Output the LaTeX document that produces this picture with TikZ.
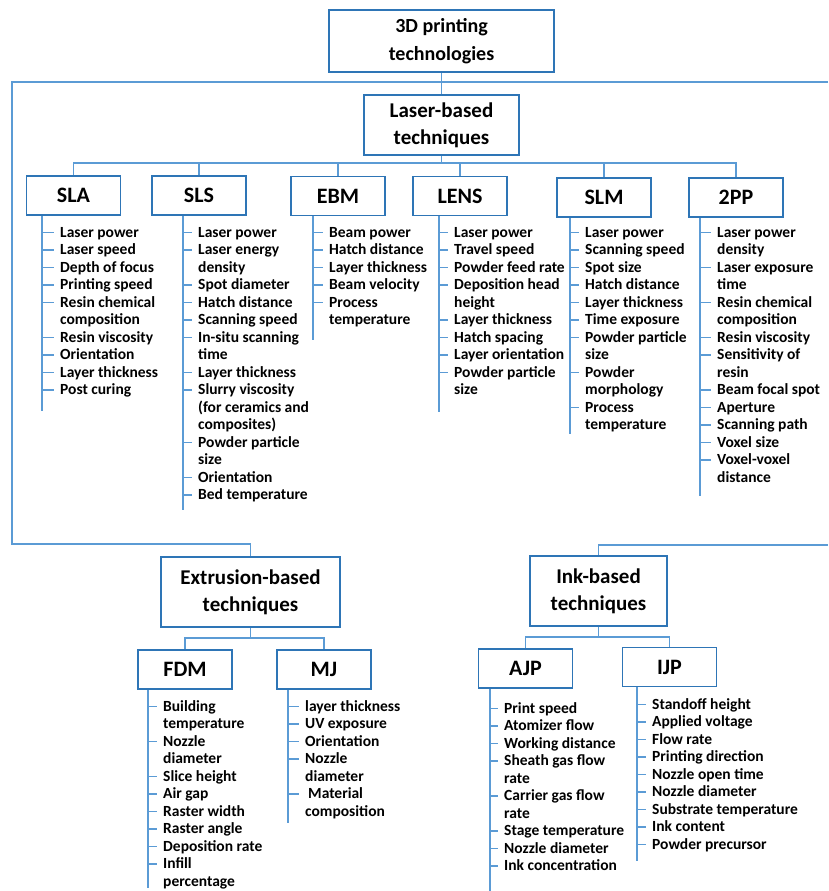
\documentclass[tikz,border=0pt]{standalone}
\usepackage{fontspec}
\setmainfont{Carlito}
\usepackage{xcolor}
\usetikzlibrary{positioning, calc}

\definecolor{boxblue}{HTML}{2E75B6}
\definecolor{lineblue}{HTML}{5B9BD5}

% parameter text, baseline on its first line
\newcommand{\partext}[1]{\begin{tabular}[t]{@{}l@{}}#1\end{tabular}}

\tikzset{
  box/.style={draw=boxblue, line width=1.8pt, fill=white, align=center, inner sep=0pt,
    font=\bfseries\fontsize{21}{27}\selectfont, text=black},
  techbox/.style={box, minimum width=94pt, minimum height=39pt, font=\bfseries\fontsize{22}{24}\selectfont},
  link/.style={draw=lineblue, line width=1.3pt},
  item/.style={anchor=base west, inner sep=0pt, text=black,
    font=\bfseries\fontsize{15.5}{17.5}\selectfont}
}

\begin{document}
\begin{tikzpicture}[x=1pt, y=1pt]
\useasboundingbox (0,0) rectangle (828,-891);

% Main boxes
\node[box, minimum width=225pt, minimum height=62pt, font=\bfseries\fontsize{20}{28}\selectfont] (tech) at (441.5,-41) {3D printing\\technologies};
\node[box, minimum width=155pt, minimum height=60pt] (laser) at (441.5,-125) {Laser-based\\techniques};
\node[box, minimum width=179pt, minimum height=70pt] (extr) at (250.5,-592) {Extrusion-based\\techniques};
\node[box, minimum width=137pt, minimum height=70pt] (ink) at (598.5,-591) {Ink-based\\techniques};

% Laser-based technologies
\node[techbox] (sla) at (73.5,-195.5) {SLA};
\node[techbox] (sls) at (199,-195.5) {SLS};
\node[techbox] (ebm) at (338,-196) {EBM};
\node[techbox] (lens) at (460,-196) {LENS};
\node[techbox] (slm) at (604,-197.5) {SLM};
\node[techbox] (tpp) at (736,-197.5) {2PP};

% Extrusion- and ink-based technologies
\node[techbox] (fdm) at (185,-669.5) {FDM};
\node[techbox] (mj) at (324,-669.5) {MJ};
\node[techbox] (ajp) at (525.5,-668.5) {AJP};
\node[techbox] (ijp) at (669.5,-667) {IJP};

% Tree connectors
\coordinate (fl) at (12,-82);
\coordinate (fr) at (828,-82);
\coordinate (er) at (828,-545);
\draw[link] (tech.south) -- (laser.north);
\draw[link] (fr) -- (fl) -- ($(fl)+(0,-462)$) -| (extr.north);
\draw[link] (ink.north) |- (er);
\foreach \c in {sla, sls, ebm, lens, slm, tpp}
  \draw[link] (laser.south) -- ++(0,-7) -| (\c.north);
\foreach \c in {fdm, mj}
  \draw[link] (extr.south) -- ++(0,-10) -| (\c.north);
\foreach \c in {ajp, ijp}
  \draw[link] (ink.south) -- ++(0,-10) -| (\c.north);

% SLA parameters
\coordinate (slaend) at (42,-411);
\draw[link] (sla.south -| slaend) -- (slaend);
\foreach \row/\txt [count=\i] in {0/Laser power, 1/Laser speed, 2/Depth of focus, 3/Printing speed,
    4/Resin chemical\\composition, 6/Resin viscosity, 7/Orientation, 8/Layer thickness, 9/Post curing}
{
  \node[item] (sla\i) at (60,{-237-17.5*\row}) {\partext{\txt}};
  \draw[link] ([yshift=4.5pt]sla\i.base west -| slaend) -- ([shift={(-6,4.5)}]sla\i.base west);
}

% SLS parameters
\coordinate (slsend) at (183,-510);
\draw[link] (sls.south -| slsend) -- (slsend);
\foreach \row/\txt [count=\i] in {0/Laser power, 1/Laser energy\\density, 3/Spot diameter, 4/Hatch distance,
    5/Scanning speed, 6/In-situ scanning\\time, 8/Layer thickness,
    9/Slurry viscosity\\(for ceramics and\\composites), 12/Powder particle\\size, 14/Orientation, 15/Bed temperature}
{
  \node[item] (sls\i) at (198,{-237-17.5*\row}) {\partext{\txt}};
  \draw[link] ([yshift=4.5pt]sls\i.base west -| slsend) -- ([shift={(-6,4.5)}]sls\i.base west);
}

% EBM parameters
\coordinate (ebmend) at (313,-340);
\draw[link] (ebm.south -| ebmend) -- (ebmend);
\foreach \row/\txt [count=\i] in {0/Beam power, 1/Hatch distance, 2/Layer thickness, 3/Beam velocity,
    4/Process\\temperature}
{
  \node[item] (ebm\i) at (329,{-237-17.5*\row}) {\partext{\txt}};
  \draw[link] ([yshift=4.5pt]ebm\i.base west -| ebmend) -- ([shift={(-6,4.5)}]ebm\i.base west);
}

% LENS parameters
\coordinate (lensend) at (439,-412);
\draw[link] (lens.south -| lensend) -- (lensend);
\foreach \row/\txt [count=\i] in {0/Laser power, 1/Travel speed, 2/Powder feed rate, 3/Deposition head\\height,
    5/Layer thickness, 6/Hatch spacing, 7/Layer orientation, 8/Powder particle\\size}
{
  \node[item] (lens\i) at (454,{-237-17.5*\row}) {\partext{\txt}};
  \draw[link] ([yshift=4.5pt]lens\i.base west -| lensend) -- ([shift={(-6,4.5)}]lens\i.base west);
}

% SLM parameters
\coordinate (slmend) at (570,-434);
\draw[link] (slm.south -| slmend) -- (slmend);
\foreach \row/\txt [count=\i] in {0/Laser power, 1/Scanning speed, 2/Spot size, 3/Hatch distance,
    4/Layer thickness, 5/Time exposure, 6/Powder particle\\size, 8/Powder\\morphology, 10/Process\\temperature}
{
  \node[item] (slm\i) at (585,{-237-17.5*\row}) {\partext{\txt}};
  \draw[link] ([yshift=4.5pt]slm\i.base west -| slmend) -- ([shift={(-6,4.5)}]slm\i.base west);
}

% 2PP parameters
\coordinate (tppend) at (700,-496);
\draw[link] (tpp.south -| tppend) -- (tppend);
\foreach \row/\txt [count=\i] in {0/Laser power\\density, 2/Laser exposure\\time, 4/Resin chemical\\composition,
    6/Resin viscosity, 7/Sensitivity of\\resin, 9/Beam focal spot, 10/Aperture, 11/Scanning path,
    12/Voxel size, 13/Voxel-voxel\\distance}
{
  \node[item] (tpp\i) at (717,{-237-17.5*\row}) {\partext{\txt}};
  \draw[link] ([yshift=4.5pt]tpp\i.base west -| tppend) -- ([shift={(-6,4.5)}]tpp\i.base west);
}

% FDM parameters
\coordinate (fdmend) at (148,-888);
\draw[link] (fdm.south -| fdmend) -- (fdmend);
\foreach \row/\txt [count=\i] in {0/Building\\temperature, 2/Nozzle\\diameter, 4/Slice height, 5/Air gap,
    6/Raster width, 7/Raster angle, 8/Deposition rate, 9/Infill\\percentage}
{
  \node[item] (fdm\i) at (163,{-711-17.5*\row}) {\partext{\txt}};
  \draw[link] ([yshift=4.5pt]fdm\i.base west -| fdmend) -- ([shift={(-6,4.5)}]fdm\i.base west);
}

% MJ parameters
\coordinate (mjend) at (288,-823);
\draw[link] (mj.south -| mjend) -- (mjend);
\foreach \row/\txt [count=\i] in {0/layer thickness, 1/UV exposure, 2/Orientation, 3/Nozzle\\diameter,
    5/\hspace{3pt}Material\\composition}
{
  \node[item] (mj\i) at (305,{-711-17.5*\row}) {\partext{\txt}};
  \draw[link] ([yshift=4.5pt]mj\i.base west -| mjend) -- ([shift={(-6,4.5)}]mj\i.base west);
}

% AJP parameters
\coordinate (ajpend) at (490,-891);
\draw[link] (ajp.south -| ajpend) -- (ajpend);
\foreach \row/\txt [count=\i] in {0/Print speed, 1/Atomizer flow, 2/Working distance, 3/Sheath gas flow\\rate,
    5/Carrier gas flow\\rate, 7/Stage temperature, 8/Nozzle diameter, 9/Ink concentration}
{
  \node[item] (ajp\i) at (504,{-713-17.5*\row}) {\partext{\txt}};
  \draw[link] ([yshift=4.5pt]ajp\i.base west -| ajpend) -- ([shift={(-6,4.5)}]ajp\i.base west);
}

% IJP parameters
\coordinate (ijpend) at (637,-861);
\draw[link] (ijp.south -| ijpend) -- (ijpend);
\foreach \row/\txt [count=\i] in {0/Standoff height, 1/Applied voltage, 2/Flow rate, 3/Printing direction,
    4/Nozzle open time, 5/Nozzle diameter, 6/Substrate temperature, 7/Ink content, 8/Powder precursor}
{
  \node[item] (ijp\i) at (652,{-709-17.5*\row}) {\partext{\txt}};
  \draw[link] ([yshift=4.5pt]ijp\i.base west -| ijpend) -- ([shift={(-6,4.5)}]ijp\i.base west);
}
\end{tikzpicture}
\end{document}
